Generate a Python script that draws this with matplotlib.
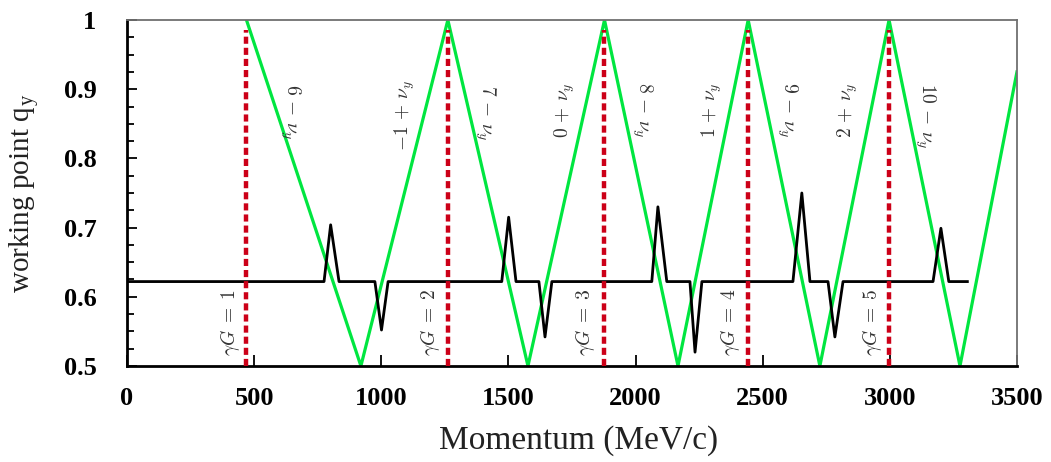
import matplotlib
matplotlib.use("Agg")
import matplotlib.pyplot as plt
from matplotlib.ticker import MultipleLocator

plt.rcParams['font.family'] = ['Liberation Serif', 'DejaVu Serif']
plt.rcParams['mathtext.fontset'] = 'cm'

# green resonance lines (peaks / valleys)
green_x = [470, 920, 1262, 1577, 1878, 2167, 2443, 2725, 2997, 3276, 3500]
green_y = [1.0, 0.5, 1.0, 0.5, 1.0, 0.5, 1.0, 0.5, 1.0, 0.5, 0.925]

# black working point curve
black_x = [0, 775, 801, 834, 975, 1001, 1027,
           1474, 1501, 1530, 1620, 1644, 1671,
           2064, 2088, 2123, 2214, 2234, 2261,
           2619, 2654, 2686, 2757, 2784, 2816,
           3170, 3201, 3232, 3305]
black_y = [0.622, 0.622, 0.704, 0.622, 0.622, 0.552, 0.622,
           0.622, 0.715, 0.622, 0.622, 0.542, 0.622,
           0.622, 0.730, 0.622, 0.622, 0.520, 0.622,
           0.622, 0.750, 0.622, 0.622, 0.542, 0.622,
           0.622, 0.699, 0.622, 0.622]

# integer gamma*G positions
red_x = [470, 1262, 1876, 2442, 2997]
red_labels = [r'$\gamma G\;=\;1$', r'$\gamma G\;=\;2$', r'$\gamma G\;=\;3$',
              r'$\gamma G\;=\;4$', r'$\gamma G\;=\;5$']
red_label_x = [405, 1192, 1801, 2371, 2930]

line_labels = [r'$6\,-\,\nu_y$', r'$-1\,+\,\nu_y$', r'$7\,-\,\nu_y$', r'$0\,+\,\nu_y$',
               r'$8\,-\,\nu_y$', r'$1\,+\,\nu_y$', r'$9\,-\,\nu_y$', r'$2\,+\,\nu_y$',
               r'$10\,-\,\nu_y$']
line_label_x = [641, 1093, 1408, 1722, 2025, 2300, 2595, 2835, 3138]
line_label_y = [0.867, 0.862, 0.866, 0.87, 0.87, 0.87, 0.87, 0.87, 0.862]
line_label_rot = [-90, 90, -90, 90, -90, 90, -90, 90, -90]

fig = plt.figure(figsize=(10.51, 4.62), dpi=100)
ax = fig.add_axes([0.1208, 0.2078, 0.8468, 0.7489])

ax.plot(green_x, green_y, color='#00e640', lw=2.3, zorder=2)
ax.plot(black_x, black_y, color='black', lw=2.0, zorder=3)
for x in red_x:
    ax.plot([x, x], [0.5, 0.985], color='#cc0018', lw=3.2, dashes=(1.6, 0.9), zorder=4)

for x, t in zip(red_label_x, red_labels):
    ax.text(x, 0.563, t, rotation=90, ha='center', va='center', fontsize=14, color='#333333')
for x, y, t, r in zip(line_label_x, line_label_y, line_labels, line_label_rot):
    ax.text(x, y, t, rotation=r, ha='center', va='center', fontsize=14, color='#333333')

ax.set_xlim(0, 3500)
ax.set_ylim(0.5, 1.0)
ax.xaxis.set_major_locator(MultipleLocator(500))
ax.yaxis.set_minor_locator(MultipleLocator(0.025))
ax.set_yticks([0.5, 0.6, 0.7, 0.8, 0.9, 1.0])
ax.set_yticklabels(['0.5', '0.6', '0.7', '0.8', '0.9', '1'])
ax.tick_params(axis='both', which='both', direction='in', top=False, right=False,
               labelsize=19, width=1.3, color='black')
ax.tick_params(axis='y', which='major', length=7, pad=22)
ax.tick_params(axis='y', which='minor', length=5)
ax.tick_params(axis='x', which='major', length=8, pad=15)
for lab in ax.get_xticklabels() + ax.get_yticklabels():
    lab.set_fontweight('bold')

for s in ['left', 'bottom']:
    ax.spines[s].set_linewidth(2.0)
    ax.spines[s].set_color('black')
for s in ['top', 'right']:
    ax.spines[s].set_linewidth(1.3)
    ax.spines[s].set_color('#707070')

ax.set_xlabel('Momentum (MeV/c)', fontsize=24, color='#222222')
ax.set_ylabel(r'working point q$_\mathregular{y}$', fontsize=21, color='#222222')
ax.xaxis.set_label_coords(0.507, -0.172)
ax.yaxis.set_label_coords(-0.0955, 0.5)

fig.savefig('out.png', dpi=100)
